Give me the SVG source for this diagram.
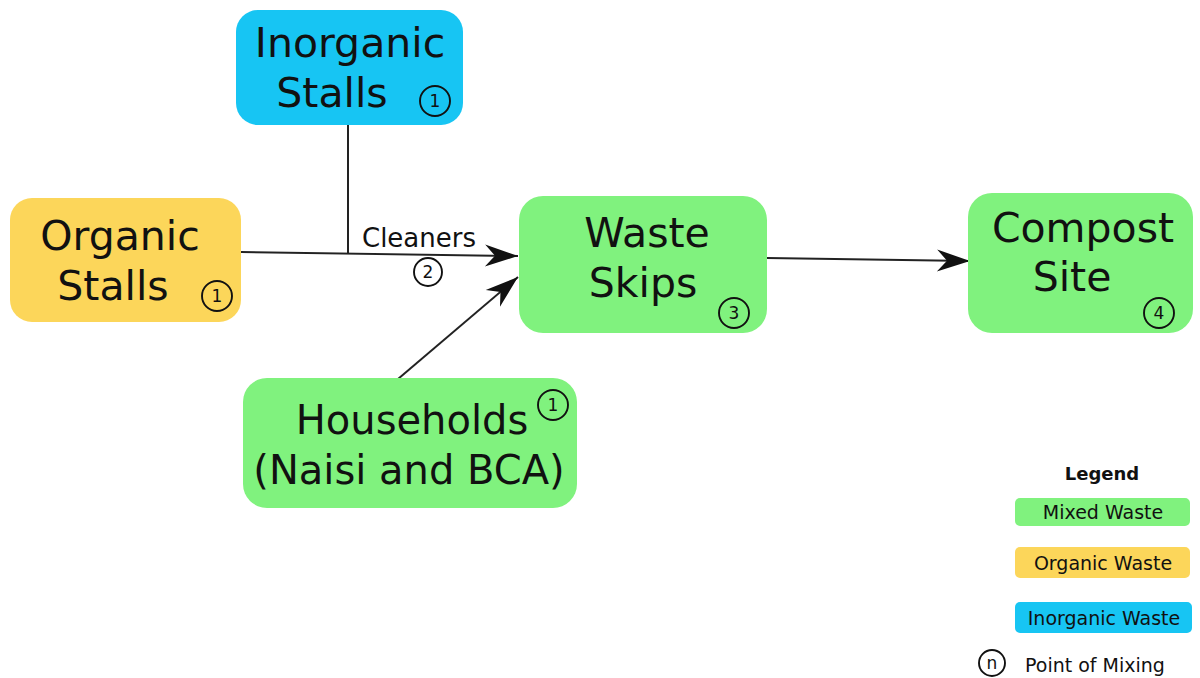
<svg xmlns="http://www.w3.org/2000/svg" width="1200" height="678" viewBox="0 0 1200 678">
<defs>
<marker id="arr" markerUnits="userSpaceOnUse" markerWidth="38" markerHeight="26" viewBox="-35 -13 38 26" refX="0" refY="0" orient="auto">
<path d="M0,0 L-33,-11 L-23,0 L-33,11 Z" fill="#111"/>
</marker>
<style>
.t{font-family:"DejaVu Sans",Verdana,sans-serif;fill:#111;text-anchor:middle}
.big{font-size:40px}
.num{font-size:17px}
.leg{font-size:19px}
.c{fill:none;stroke:#111;stroke-width:1.9}
.green{fill:#80f27e}
.yellow{fill:#fcd65a}
.blue{fill:#17c5f3}
.ln{fill:none;stroke:#222;stroke-width:2}
</style>
</defs>
<rect width="1200" height="678" fill="#fff"/>
<g id="connectors">
<line class="ln" x1="348" y1="125" x2="348" y2="253" stroke-width="1.5" stroke="#555"/>
<line class="ln" x1="241" y1="252" x2="518" y2="256" marker-end="url(#arr)"/>
<line class="ln" x1="398" y1="379" x2="518" y2="277" marker-end="url(#arr)"/>
<line class="ln" x1="767" y1="258" x2="970" y2="261" marker-end="url(#arr)"/>
<text class="t" x="419" y="247" font-size="26">Cleaners</text>
<circle class="c" cx="428" cy="272" r="14"/>
<text class="t num" x="428" y="278">2</text>
</g>
<g id="inorganic">
<rect class="blue" x="236" y="10" width="227" height="115" rx="22"/>
<text class="t" x="350" y="57" font-size="41">Inorganic</text>
<text class="t" x="332" y="107" font-size="41">Stalls</text>
<circle class="c" cx="435" cy="101" r="15"/>
<text class="t num" x="435" y="107">1</text>
</g>
<g id="organic">
<rect class="yellow" x="10" y="198" width="231" height="124" rx="22"/>
<text class="t" x="120" y="250" font-size="41">Organic</text>
<text class="t" x="113" y="300" font-size="41">Stalls</text>
<circle class="c" cx="217" cy="296" r="15"/>
<text class="t num" x="217" y="302">1</text>
</g>
<g id="households">
<rect class="green" x="243" y="378" width="334" height="130" rx="24"/>
<text class="t big" x="412" y="434">Households</text>
<text class="t big" x="409" y="484">(Naisi and BCA)</text>
<circle class="c" cx="553" cy="405" r="15"/>
<text class="t num" x="553" y="411">1</text>
</g>
<g id="waste-skips">
<rect class="green" x="519" y="196" width="248" height="137" rx="24"/>
<text class="t" x="647" y="247" font-size="41">Waste</text>
<text class="t" x="643" y="297" font-size="41">Skips</text>
<circle class="c" cx="734" cy="313" r="15"/>
<text class="t num" x="734" y="319">3</text>
</g>
<g id="compost-site">
<rect class="green" x="968" y="193" width="225" height="140" rx="24"/>
<text class="t" x="1083" y="242" font-size="41">Compost</text>
<text class="t" x="1072" y="291" font-size="41">Site</text>
<circle class="c" cx="1159" cy="313" r="15"/>
<text class="t num" x="1159" y="319">4</text>
</g>
<g id="legend">
<text class="t" x="1102" y="480" font-size="18" font-weight="bold">Legend</text>
<rect class="green" x="1015" y="498" width="175" height="28" rx="5"/>
<text class="t leg" x="1103" y="519">Mixed Waste</text>
<rect class="yellow" x="1015" y="547" width="175" height="31" rx="5"/>
<text class="t leg" x="1103" y="570">Organic Waste</text>
<rect class="blue" x="1015" y="602" width="177" height="31" rx="5"/>
<text class="t leg" x="1104" y="625">Inorganic Waste</text>
<circle class="c" cx="992" cy="663" r="13"/>
<text class="t" x="992" y="669" font-size="17">n</text>
<text class="t leg" x="1025" y="672" style="text-anchor:start">Point of Mixing</text>
</g>
</svg>
